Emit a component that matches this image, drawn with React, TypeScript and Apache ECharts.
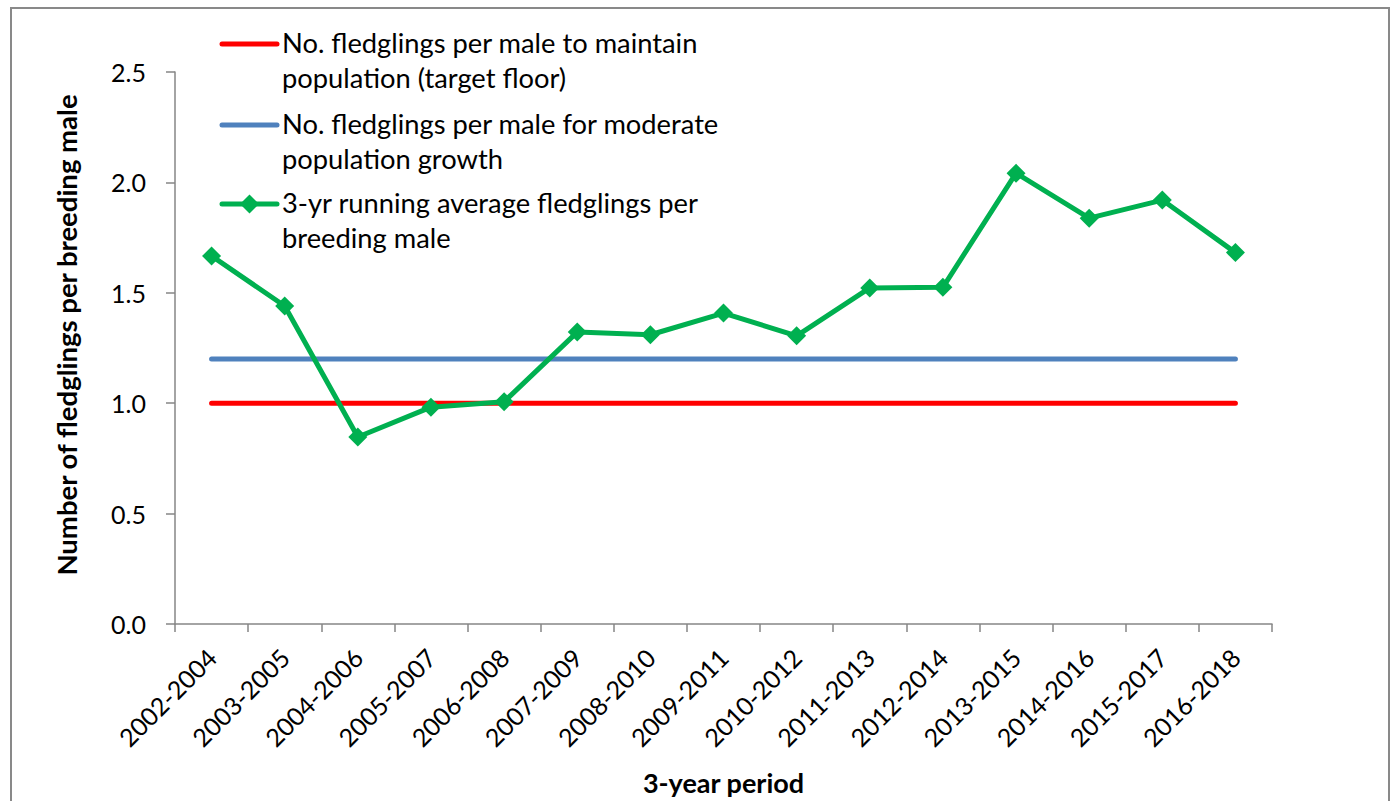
import React, { useEffect, useRef } from "react";
import * as echarts from "echarts";

const categories = [
  "2002-2004", "2003-2005", "2004-2006", "2005-2007", "2006-2008",
  "2007-2009", "2008-2010", "2009-2011", "2010-2012", "2011-2013",
  "2012-2014", "2013-2015", "2014-2016", "2015-2017", "2016-2018",
];
const runningAverage = [1.667, 1.44, 0.847, 0.982, 1.007, 1.322, 1.31, 1.408, 1.305, 1.522, 1.525, 2.042, 1.838, 1.92, 1.682];
const targetFloor = 1.0;
const moderateGrowth = 1.2;

const seriesNames = [
  "No. fledglings per male to maintain\npopulation (target floor)",
  "No. fledglings per male for moderate\npopulation growth",
  "3-yr running average fledglings per\nbreeding male",
];
const yTicks = { min: 0, max: 2.5, interval: 0.5 };

const FONT = "Lato, 'Open Sans', sans-serif";
const RED = "#FF0000";
const BLUE = "#4F81BD";
const GREEN = "#00B050";
const AXIS = "#868686";

export default function App() {
  const ref = useRef<HTMLDivElement>(null);
  useEffect(() => {
    if (!ref.current) return;
    const chart = echarts.init(ref.current, null, { renderer: "svg" });
    const legendX = 222;
    const legendRows = [44, 125, 204];
    const colors = [RED, BLUE, GREEN];
    const graphics: any[] = [
      {
        type: "rect",
        silent: true,
        z: -10,
        shape: { x: 11, y: 8, width: 1378, height: 820 },
        style: { fill: "#fff", stroke: "#898989", lineWidth: 2 },
      },
    ];
    legendRows.forEach((y, i) => {
      graphics.push({
        type: "line",
        z: 100,
        shape: { x1: legendX, y1: y, x2: legendX + 55, y2: y },
        style: { stroke: colors[i], lineWidth: 5, lineCap: "round" },
      });
      if (i === 2) {
        const cx = legendX + 27.5;
        const h = 9.5;
        graphics.push({
          type: "polygon",
          z: 101,
          shape: { points: [[cx, y - h], [cx + h, y], [cx, y + h], [cx - h, y]] },
          style: { fill: GREEN },
        });
      }
      graphics.push({
        type: "text",
        z: 100,
        x: legendX + 60,
        y: y - 19,
        style: {
          text: seriesNames[i],
          font: `27.3px ${FONT}`,
          fill: "#000",
          lineHeight: 35,
          verticalAlign: "top",
          align: "left",
        },
      });
    });

    chart.setOption({
      animation: false,
      backgroundColor: "#fff",
      grid: { left: 175, right: 120, top: 72, bottom: 176, containLabel: false },
      xAxis: {
        type: "category",
        data: categories,
        boundaryGap: true,
        name: "3-year period",
        nameLocation: "middle",
        nameGap: 145,
        nameTextStyle: { fontFamily: FONT, fontSize: 27, fontWeight: "bold", color: "#000" },
        axisLine: { lineStyle: { color: AXIS, width: 1.5 } },
        axisTick: { show: true, length: 8, lineStyle: { color: AXIS, width: 1.5 }, alignWithLabel: false },
        axisLabel: { interval: 0, rotate: 45, margin: 29, fontFamily: FONT, fontSize: 25, color: "#000" },
        splitLine: { show: false },
      },
      yAxis: {
        type: "value",
        min: yTicks.min,
        max: yTicks.max,
        interval: yTicks.interval,
        name: "Number of fledglings per breeding male",
        nameLocation: "middle",
        nameGap: 95,
        nameTextStyle: {
          fontFamily: FONT,
          fontSize: 27.5,
          fontWeight: "bold",
          color: "#000",
          padding: [0, 0, 0, 26],
        },
        axisLine: { show: true, lineStyle: { color: AXIS, width: 1.5 } },
        axisTick: { show: true, length: 9, lineStyle: { color: AXIS, width: 1.5 } },
        axisLabel: {
          margin: 29,
          fontFamily: FONT,
          fontSize: 25,
          color: "#000",
          formatter: (v: number) => v.toFixed(1),
        },
        splitLine: { show: false },
      },
      graphic: graphics,
      series: [
        {
          name: seriesNames[0],
          type: "line",
          data: categories.map(() => targetFloor),
          symbol: "none",
          lineStyle: { color: RED, width: 5, cap: "round" },
          itemStyle: { color: RED },
          z: 2,
        },
        {
          name: seriesNames[1],
          type: "line",
          data: categories.map(() => moderateGrowth),
          symbol: "none",
          lineStyle: { color: BLUE, width: 5, cap: "round" },
          itemStyle: { color: BLUE },
          z: 2,
        },
        {
          name: seriesNames[2],
          type: "line",
          data: runningAverage,
          symbol: "diamond",
          symbolSize: 19,
          lineStyle: { color: GREEN, width: 5, cap: "round", join: "round" },
          itemStyle: { color: GREEN },
          z: 3,
        },
      ],
    });
    return () => chart.dispose();
  }, []);
  return (
    <div
      ref={ref}
      style={{ position: "absolute", left: 0, top: 0, width: 1392, height: 801 }}
    />
  );
}
